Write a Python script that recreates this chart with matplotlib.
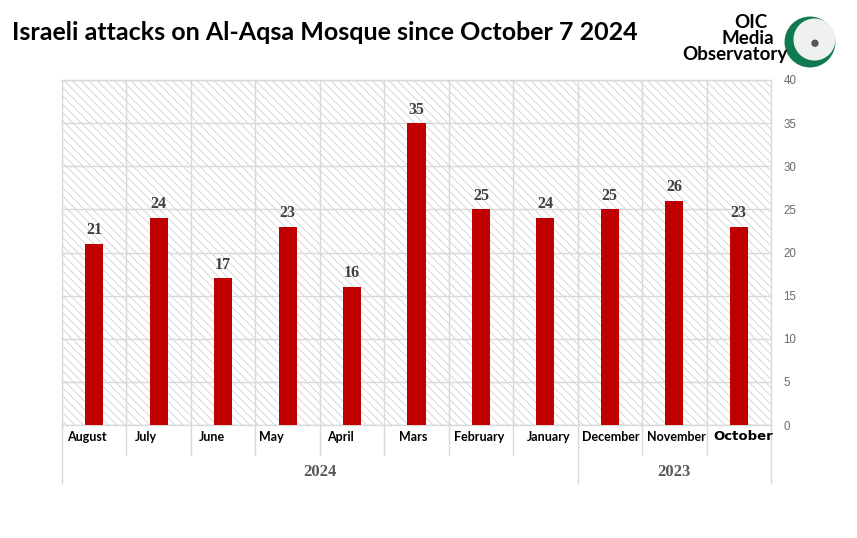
import matplotlib
matplotlib.use("Agg")
import matplotlib.pyplot as plt
from matplotlib.patches import Rectangle, Circle, Ellipse
from matplotlib.lines import Line2D

months = ["August", "July", "June", "May", "April", "Mars", "February",
          "January", "December", "November", "October"]
values = [21, 24, 17, 23, 16, 35, 25, 24, 25, 26, 23]
years = ["2024", "2023"]
year_spans = [(0, 7), (8, 10)]  # index ranges (inclusive)
yticks = [0, 5, 10, 15, 20, 25, 30, 35, 40]
title = "Israeli attacks on Al-Aqsa Mosque since October 7 2024"

SANS = "Lato"

W, H = 857, 538
fig = plt.figure(figsize=(W / 100, H / 100), dpi=100)
fig.patch.set_facecolor("white")

L, R, T, B = 62, 771, 80, 425
ax = fig.add_axes([L / W, 1 - B / H, (R - L) / W, (B - T) / H])
ax.set_facecolor("white")

plt.rcParams["hatch.linewidth"] = 0.6
bg = Rectangle((0, 0), 1, 1, transform=ax.transAxes, facecolor="white",
               edgecolor="#cfcfcf", linewidth=0, hatch="\\\\\\\\", zorder=0)
ax.add_patch(bg)

n = len(months)
x = list(range(n))
bars = ax.bar(x, values, width=0.28, color="#c00000", zorder=3)
for xi, v in zip(x, values):
    ax.annotate(str(v), (xi, v), xytext=(0, 4), textcoords="offset points",
                ha="center", va="bottom", fontsize=11.5, fontweight="bold",
                family="Liberation Serif", color="#404040", zorder=4)

ax.set_xlim(-0.5, n - 0.5)
ax.set_ylim(0, 40)
ax.set_yticks(yticks)
ax.yaxis.tick_right()
ax.tick_params(axis="y", length=0, pad=9, labelsize=8.3, labelcolor="#6a6a6a")
for lab in ax.get_yticklabels():
    lab.set_family("Liberation Sans")
ax.set_xticks([])
ax.grid(axis="y", color="#d9d9d9", linewidth=1, zorder=1)
for xb in [i + 0.5 for i in range(n - 1)]:
    ax.axvline(xb, color="#d9d9d9", linewidth=1, zorder=1)
for s in ax.spines.values():
    s.set_color("#d9d9d9")
    s.set_linewidth(1)

ph = B - T
cell = (R - L) / n
tr = ax.get_xaxis_transform()
# month labels
offs = [5, 8, 8, 4, 7, 15, 5, 14, 4, 5, 7]
for i, (m, o) in enumerate(zip(months, offs)):
    if m == "October":
        ax.text(i - 0.5 + o / cell, -12 / ph, m, transform=tr, ha="left", va="center",
                fontsize=9.5, fontweight="bold", family="DejaVu Sans", color="black")
    else:
        ax.text(i - 0.5 + o / cell, -12 / ph, m, transform=tr, ha="left", va="center",
                fontsize=9, fontweight="bold", family=SANS, color="black")
# separators
group_edges = [year_spans[0][0] - 0.5, year_spans[1][0] - 0.5, year_spans[1][1] + 0.5]
for i in range(n + 1):
    xb = i - 0.5
    ybot = -58 / ph if xb in group_edges else -30 / ph
    ax.add_line(Line2D([xb, xb], [0, ybot], transform=tr, color="#d9d9d9",
                       linewidth=1, clip_on=False))
for yr, (a, b) in zip(years, year_spans):
    ax.text((a + b) / 2, -47 / ph, yr, transform=tr, ha="center", va="center",
            fontsize=12, fontweight="bold", family="Liberation Serif", color="#595959")

# title
fig.text(12 / W, 1 - 32 / H, title, ha="left", va="center", fontsize=18,
         fontweight="bold", family=SANS, color="black")

# logo text
fig.text(751 / W, 1 - 23 / H, "OIC", ha="center", va="center", fontsize=13.5,
         fontweight="bold", family=SANS)
fig.text(748 / W, 1 - 39 / H, "Media", ha="center", va="center", fontsize=13.5,
         fontweight="bold", family=SANS)
fig.text(735 / W, 1 - 55 / H, "Observatory", ha="center", va="center", fontsize=13.5,
         fontweight="bold", family=SANS)

# logo circle
lax = fig.add_axes([784 / W, 1 - 68 / H, 52 / W, 52 / H])
lax.set_xlim(-1.05, 1.05)
lax.set_ylim(-1.05, 1.05)
lax.set_aspect("equal")
lax.axis("off")
lax.add_patch(Circle((0, 0), 1.0, color="#0f7a4f"))
lax.add_patch(Circle((0.18, 0.1), 0.82, color="#eef1ee"))
lax.add_patch(Circle((0.2, -0.05), 0.12, color="#555555"))

fig.savefig("out.png", dpi=100, facecolor="white")
